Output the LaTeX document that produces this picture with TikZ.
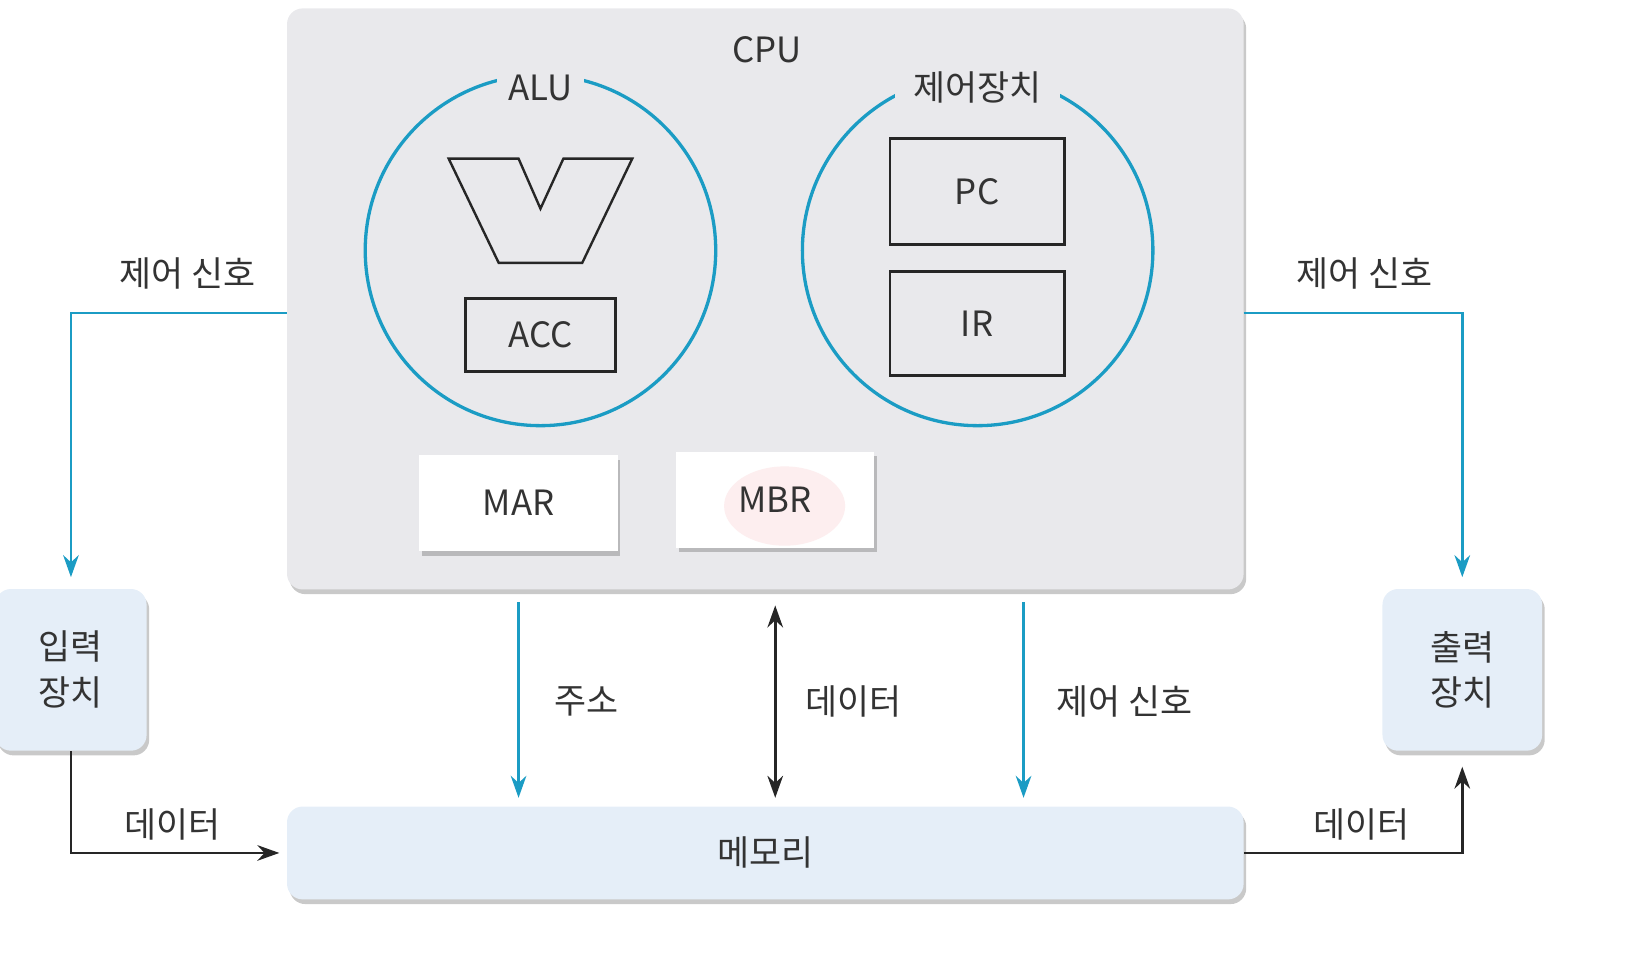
\documentclass[tikz,border=0pt]{standalone}
\usepackage{fontspec}
\setmainfont{Noto Sans CJK KR}
\usetikzlibrary{arrows.meta,shadows}
\definecolor{cpugray}{HTML}{E9E9EC}
\definecolor{sigblue}{HTML}{1B9CC4}
\definecolor{devblue}{HTML}{E5EEF8}
\definecolor{txtgray}{HTML}{333333}
\definecolor{marker}{HTML}{FDEEEF}
\begin{document}
\begin{tikzpicture}[
			x=0.02cm, y=-0.02cm,
			every node/.style={text=txtgray, font=\fontsize{19}{25}\selectfont},
			shade/.style={drop shadow={shadow xshift=0.05cm, shadow yshift=-0.09cm, opacity=0.3, fill=black!70}},
			block/.style={rounded corners=0.3cm, shade, inner sep=0pt},
			reg/.style={draw=black!85, line width=1.3pt, fill=cpugray, inner sep=0pt},
			unit/.style={circle, draw=sigblue, line width=1.8pt, minimum size=6.72cm, inner sep=0pt},
			title/.style={fill=cpugray, inner xsep=6pt, inner ysep=2pt},
			sig/.style={draw=sigblue, line width=1.5pt, -{Stealth[length=12pt,width=8.5pt]}},
			dat/.style={draw=black!85, line width=1.5pt, -{Stealth[length=12pt,width=8.5pt]}}
		]
		\useasboundingbox (0,0) rectangle (1568,919);

		\node[block, fill=cpugray, minimum width=18.34cm, minimum height=11.14cm] (cpu) at (733.5,286.5) {};
		\node at (735,48) {CPU};

		\node[unit] (alu) at (518,240) {};
		\node[title] at (518,84) {ALU};
		\draw[black!85, line width=1.3pt, line join=miter]
			(430,152) -- (497,152) -- (518,200) -- (540,152) -- (606,152)
			-- (558,252) -- (478,252) -- cycle;
		\node[reg, minimum width=2.88cm, minimum height=1.4cm] (acc) at (518,321) {ACC};

		\node[unit] (cu) at (937,240) {};
		\node[title, inner xsep=10pt] at (937,84) {제어장치};
		\node[reg, line width=1.6pt, minimum width=3.34cm, minimum height=2.02cm] (pc) at (936.5,183.5) {PC};
		\node[reg, line width=1.6pt, minimum width=3.34cm, minimum height=2cm] (ir) at (936.5,310) {IR};

		\node[fill=white, shade, minimum width=3.8cm, minimum height=1.84cm] (mar) at (497,482) {MAR};
		\node[fill=white, shade, minimum width=3.8cm, minimum height=1.84cm] (mbr) at (743,479) {};
		\fill[marker] (752,485) ellipse [x radius=58, y radius=38];
		\node at (mbr) {MBR};

		\node[block, fill=devblue, minimum width=2.9cm, minimum height=3.1cm, align=center] (in) at (68,642) {입력\\장치};
		\node[block, fill=devblue, minimum width=3.06cm, minimum height=3.1cm, align=center] (out) at (1401.5,642) {출력\\장치};
		\node[block, fill=devblue, minimum width=18.34cm, minimum height=1.78cm] (mem) at (733.5,817.5) {메모리};

		% control lines to the devices
		\coordinate (lc) at (275,300);
		\coordinate (rc) at (1192,300);
		\draw[sig, shorten >=0.22cm] (lc) -| (in.north);
		\draw[sig, shorten >=0.22cm] (rc) -| (out.north);
		\node at (180,262) {제어 신호};
		\node at (1308,262) {제어 신호};

		% bus between cpu and memory
		\coordinate (cs) at (981,565);
		\draw[sig, shorten <=0.24cm, shorten >=0.16cm] (mar.south |- cpu.south) -- (mar.south |- mem.north);
		\draw[dat, {Stealth[length=12pt,width=8.5pt]}-{Stealth[length=12pt,width=8.5pt]}, shorten <=0.3cm, shorten >=0.16cm]
			(mbr.south |- cpu.south) -- (mbr.south |- mem.north);
		\draw[sig, shorten <=0.24cm, shorten >=0.16cm] (cs) -- (cs |- mem.north);
		\node at (562,672) {주소};
		\node at (818,672) {데이터};
		\node at (1078,672) {제어 신호};

		% data to and from memory
		\draw[dat, shorten >=0.14cm] (in.south) |- (mem.west);
		\draw[dat, shorten >=0.3cm] (mem.east) -| (out.south);
		\node at (165,790) {데이터};
		\node at (1305,790) {데이터};
	\end{tikzpicture}
\end{document}
